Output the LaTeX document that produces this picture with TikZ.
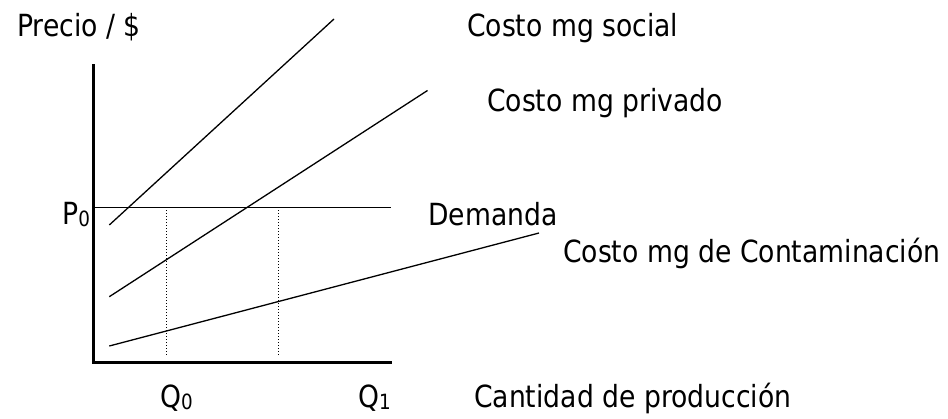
\documentclass[tikz,border=0pt]{standalone}
\usepackage{fontspec}
\setmainfont[FakeStretch=0.873]{DejaVu Sans}
\newcommand\lowsub[1]{\raisebox{-2pt}{\fontsize{21}{21}\selectfont #1}}
\begin{document}
\begin{tikzpicture}[x=1pt,y=-1pt,
  lbl/.style={anchor=base west,inner sep=0pt,font=\fontsize{30.5}{36}\selectfont},
  axisline/.style={line width=3pt},
  curve/.style={line width=1.3pt},
  guide/.style={line width=1pt,dotted}]
\useasboundingbox (0,0) rectangle (948,418);
% axes
\coordinate (ytop) at (93.3,64);
\coordinate (O) at (93.3,362.3);
\coordinate (xend) at (392,362.3);
\draw[axisline] (ytop) -- (O) -- (xend);
% demand
\coordinate (d0) at (93.3,207.3);
\coordinate (d1) at (391,207.3);
\draw[curve] (d0) -- (d1);
% social marginal cost
\coordinate (s0) at (109.3,225);
\coordinate (s1) at (334,19);
\draw[curve] (s0) -- (s1);
% private marginal cost
\coordinate (p0) at (109.3,296.7);
\coordinate (p1) at (427.5,90.5);
\draw[curve] (p0) -- (p1);
% pollution marginal cost
\coordinate (c0) at (109.3,346);
\coordinate (c1) at (539,233);
\draw[curve] (c0) -- (c1);
% dotted guides
\coordinate (q0top) at (166,207.3);
\coordinate (q0bot) at (166,356);
\coordinate (q1top) at (278,207.3);
\coordinate (q1bot) at (278,356);
\draw[guide] (q0top) -- (q0bot);
\draw[guide] (q1top) -- (q1bot);
% labels
\node[lbl] (precio) at (17,36) {Precio / \$};
\node[lbl] (social) at (467,36) {Costo mg social};
\node[lbl] (privado) at (487,111) {Costo mg privado};
\node[lbl] (P0) at (62,224) {P\lowsub{0}};
\node[lbl] (demanda) at (428,225) {Demanda};
\node[lbl] (contam) at (563,262) {Costo mg de Contaminación};
\node[lbl] (Q0) at (160,407) {Q\lowsub{0}};
\node[lbl] (Q1) at (358,407) {Q\lowsub{1}};
\node[lbl] (cantidad) at (474,407) {Cantidad de producción};
\end{tikzpicture}
\end{document}
